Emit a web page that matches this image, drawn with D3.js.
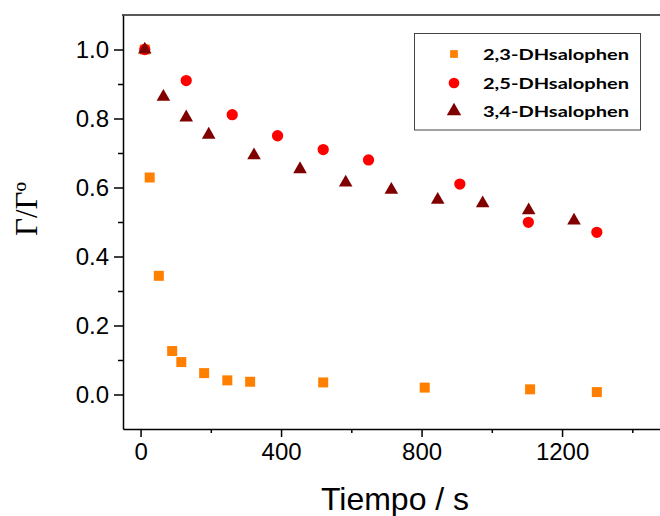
<!DOCTYPE html>
<html lang="en">
<head>
<meta charset="UTF-8">
<title>Gamma ratio vs time</title>
<style>
  body { margin: 0; background: white; }
  svg { display: block; }
  .tick text { font-family: "Liberation Sans", Arial, sans-serif; font-size: 24px; fill: #000; }
</style>
</head>
<body>
<div id="chart"></div>
<script src="https://d3js.org/d3.v7.min.js"></script>
<script>
// data
var series = ["2,3-DHsalophen", "2,5-DHsalophen", "3,4-DHsalophen"];

var t23 = [12, 26, 52, 90, 116, 181, 247, 312, 520, 809, 1109, 1299];
var g23 = [1.0, 0.629, 0.344, 0.126, 0.094, 0.062, 0.041, 0.037, 0.035, 0.020, 0.015, 0.007];

var t25 = [12, 130, 261, 390, 520, 649, 909, 1104, 1299];
var g25 = [1.0, 0.910, 0.811, 0.750, 0.710, 0.680, 0.610, 0.499, 0.470];

var t34 = [12, 65, 130, 194, 323, 454, 584, 714, 846, 974, 1105, 1234];
var g34 = [1.0, 0.863, 0.803, 0.753, 0.693, 0.653, 0.614, 0.593, 0.564, 0.554, 0.534, 0.504];

var xTicks = [0, 400, 800, 1200];
var yTicks = [0.0, 0.2, 0.4, 0.6, 0.8, 1.0];

var W = 660, H = 516;
var mLeft = 123, mTop = 15, mBottom = 429;

var svg = d3.select("#chart").append("svg")
  .attr("width", W).attr("height", H);

var x = d3.scaleLinear().domain([-50, 1500]).range([mLeft, mLeft + 1550 * 0.35125]);
var y = d3.scaleLinear().domain([-0.1, 1.1]).range([mBottom, mTop]);

// minor ticks
svg.append("g")
  .attr("transform", "translate(0," + mBottom + ")")
  .call(d3.axisBottom(x).tickValues([200, 600, 1000, 1400]).tickSize(4).tickFormat(""))
  .call(function (g) { g.select(".domain").remove(); })
  .selectAll("line").attr("stroke-width", 1.5);
svg.append("g")
  .attr("transform", "translate(" + mLeft + ",0)")
  .call(d3.axisLeft(y).tickValues([0.1, 0.3, 0.5, 0.7, 0.9]).tickSize(5).tickFormat(""))
  .call(function (g) { g.select(".domain").remove(); })
  .selectAll("line").attr("stroke-width", 1.5);

// major axes
var xa = svg.append("g")
  .attr("transform", "translate(0," + mBottom + ")")
  .call(d3.axisBottom(x).tickValues(xTicks).tickSize(8).tickPadding(6).tickSizeOuter(0)
    .tickFormat(d3.format("d")));
xa.select(".domain").attr("stroke-width", 1.5);
xa.selectAll("line").attr("stroke-width", 1.5);

var ya = svg.append("g")
  .attr("transform", "translate(" + mLeft + ",0)")
  .call(d3.axisLeft(y).tickValues(yTicks).tickSize(9).tickPadding(5).tickSizeOuter(0)
    .tickFormat(d3.format(".1f")));
ya.select(".domain").attr("stroke-width", 1.5);
ya.selectAll("line").attr("stroke-width", 1.5);

// top frame
svg.append("line")
  .attr("x1", mLeft - 1).attr("x2", W)
  .attr("y1", mTop).attr("y2", mTop)
  .attr("stroke", "#222").attr("stroke-width", 1.5);

// axis titles
svg.append("text")
  .attr("x", 395).attr("y", 510)
  .attr("text-anchor", "middle")
  .style("font-family", "'Liberation Sans', Arial, sans-serif")
  .style("font-size", "32px")
  .text("Tiempo / s");

svg.append("text")
  .attr("transform", "translate(37,209) rotate(-90)")
  .attr("text-anchor", "middle")
  .style("font-family", "'Liberation Serif', 'Times New Roman', serif")
  .style("font-size", "31px")
  .text("Γ/Γº");

// markers
var colors = ["#ff8000", "#ff0000", "#800000"];
var shapes = [d3.symbolSquare, d3.symbolCircle, d3.symbolTriangle];
var sizes = [100, 100, 80];
var sets = [[t23, g23], [t25, g25], [t34, g34]];

sets.forEach(function (s, i) {
  var pts = s[0].map(function (t, j) { return [t, s[1][j]]; });
  svg.append("g").selectAll("path")
    .data(pts)
    .enter()
    .append("path")
    .attr("d", d3.symbol().type(shapes[i]).size(sizes[i]))
    .attr("transform", function (d) { return "translate(" + x(d[0]) + "," + y(d[1]) + ")"; })
    .attr("fill", colors[i]);
});

// legend
var lg = svg.append("g");
lg.append("rect")
  .attr("x", 414.5).attr("y", 33.5).attr("width", 226).attr("height", 96.5)
  .attr("fill", "white").attr("stroke", "#444").attr("stroke-width", 1);
var legSizes = [60, 90, 90];
var rowY = [54, 83, 111];
series.forEach(function (name, i) {
  lg.append("path")
    .attr("d", d3.symbol().type(shapes[i]).size(legSizes[i]))
    .attr("transform", "translate(454," + rowY[i] + ")")
    .attr("fill", colors[i]);
  lg.append("text")
    .attr("x", 483).attr("y", rowY[i] + 5.5)
    .attr("textLength", 146)
    .attr("lengthAdjust", "spacingAndGlyphs")
    .style("font-family", "Lato, 'Open Sans', sans-serif")
    .style("font-weight", "bold")
    .style("font-size", "16px")
    .text(name);
});
</script>
</body>
</html>
